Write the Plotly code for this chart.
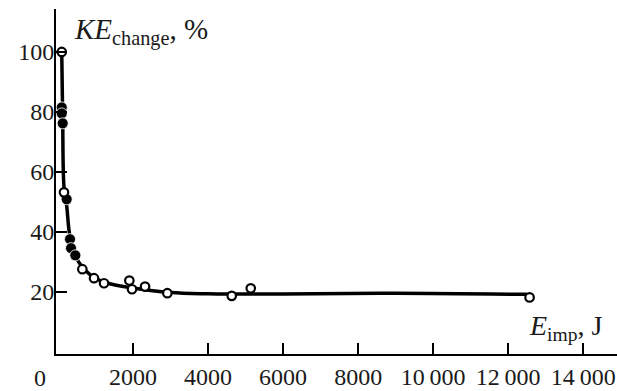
import plotly.graph_objects as go

# curve (smooth fit line)
curve_x = [100, 125, 160, 230, 300, 400, 550, 700, 1000, 1300, 2000, 3000, 4000, 6000, 9000, 12500]
curve_y = [100, 78, 55, 49, 40, 34, 30, 27.5, 24.6, 23.0, 21.3, 19.8, 19.4, 19.3, 19.6, 19.2]

# open circles
open_x = [100, 160, 649, 960, 1227, 1902, 1973, 2320, 2915, 4631, 5138, 12569]
open_y = [100, 53.2, 27.6, 24.6, 22.9, 23.8, 20.9, 21.8, 19.6, 18.7, 21.2, 18.2]

# filled circles
filled_x = [100, 100, 125, 231, 320, 347, 462]
filled_y = [81.5, 79.5, 76.2, 50.9, 37.6, 34.6, 32.2]

x_tickvals = [2000, 4000, 6000, 8000, 10000, 12000, 14000]
x_ticktext = ["2000", "4000", "6000", "8000", "10\u2009000", "12\u2009000", "14\u2009000"]
y_tickvals = [20, 40, 60, 80, 100]
y_ticktext = ["20", "40", "60", "80", "100"]
origin_label = "0"

y_title = "<i>KE</i><sub>change</sub>, %"
x_title = "<i>E</i><sub>imp</sub>, J"

FONT = "Liberation Serif, Times New Roman, serif"
TXT = "#1a1a1a"

fig = go.Figure()
fig.add_trace(go.Scatter(x=curve_x, y=curve_y, mode="lines",
                         line=dict(color="black", width=3.5, shape="spline", smoothing=1.0),
                         hoverinfo="skip", showlegend=False))
fig.add_trace(go.Scatter(x=filled_x, y=filled_y, mode="markers",
                         marker=dict(symbol="circle", size=11, color="black",
                                     line=dict(color="white", width=0.8)),
                         showlegend=False))
fig.add_trace(go.Scatter(x=open_x, y=open_y, mode="markers",
                         marker=dict(symbol="circle", size=8.5, color="white",
                                     line=dict(color="black", width=2.2)),
                         showlegend=False))

fig.update_layout(
    width=617, height=391,
    margin=dict(l=56, r=0, t=9, b=37),
    paper_bgcolor="white", plot_bgcolor="white",
    font=dict(family=FONT, size=24, color=TXT),
    xaxis=dict(range=[-53, 14900], showgrid=False, zeroline=False, automargin=False,
               showline=True, linecolor="black", linewidth=2,
               ticks="inside", ticklen=11, tickwidth=1.8, tickcolor="black",
               tickvals=x_tickvals, ticktext=x_ticktext,
               tickfont=dict(family=FONT, size=24, color=TXT)),
    yaxis=dict(range=[-0.67, 114.3], showgrid=False, zeroline=False, automargin=False,
               showline=True, linecolor="black", linewidth=2,
               ticks="inside", ticklen=11, tickwidth=1.8, tickcolor="black",
               tickvals=y_tickvals, ticktext=y_ticktext, ticklabelstandoff=-5,
               tickfont=dict(family=FONT, size=24, color=TXT)),
    annotations=[
        dict(text=y_title, xref="paper", yref="paper", x=0.028, y=0.935,
             xanchor="left", yanchor="middle", showarrow=False,
             font=dict(family=FONT, size=29, color=TXT)),
        dict(text=x_title, xref="paper", yref="paper", x=0.84, y=0.078,
             xanchor="left", yanchor="middle", showarrow=False,
             font=dict(family=FONT, size=28, color=TXT)),
        dict(text=origin_label, xref="x", yref="paper", x=0, y=0,
             xanchor="center", yanchor="top", xshift=-18, yshift=-9, showarrow=False,
             font=dict(family=FONT, size=24, color=TXT)),
    ],
)

fig.write_html("out.html", config={"displayModeBar": False},
               post_script="document.body.style.margin='0';document.body.style.overflow='hidden';")
